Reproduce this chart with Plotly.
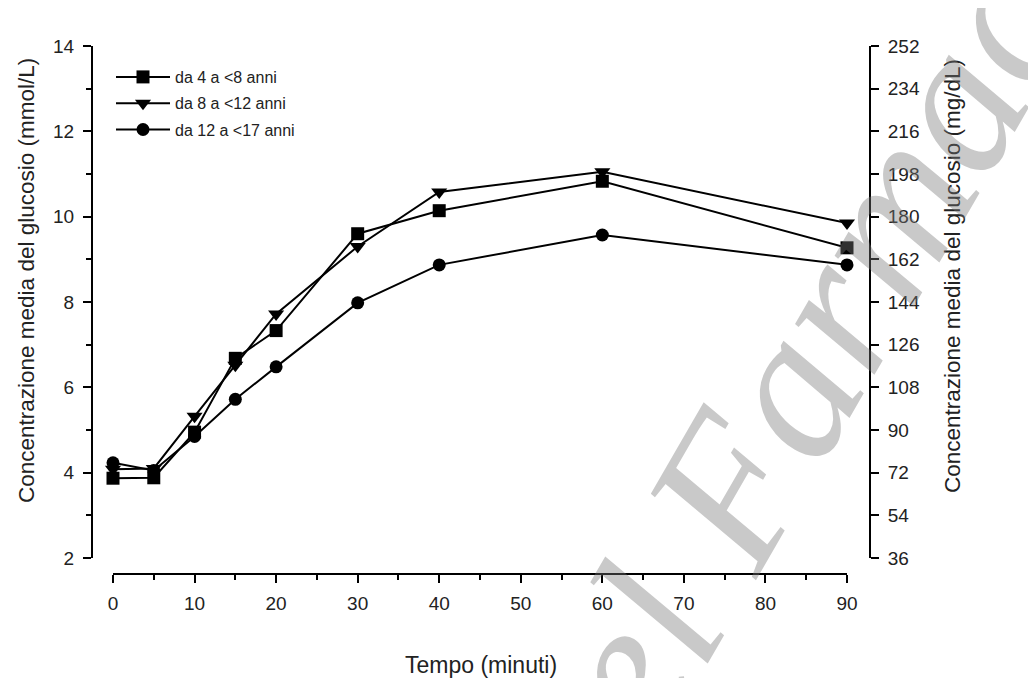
import plotly.graph_objects as go

W, H = 1020, 670          # figure size (page body adds an 8px margin)
OFF = 8
tempo = [0, 5, 10, 15, 20, 30, 40, 60, 90]
serie_nomi = ["da 4 a <8 anni", "da 8 a <12 anni", "da 12 a <17 anni"]
gruppo_4_8 = [3.87, 3.88, 4.95, 6.68, 7.33, 9.60, 10.14, 10.83, 9.27]
gruppo_8_12 = [4.08, 4.10, 5.32, 6.52, 7.72, 9.30, 10.58, 11.05, 9.85]
gruppo_12_17 = [4.23, 4.05, 4.85, 5.72, 6.48, 7.98, 8.87, 9.57, 8.87]
simboli = ["square", "triangle-down", "circle"]
mmol_ticks = [2, 4, 6, 8, 10, 12, 14]
mgdl_ticks = [36, 54, 72, 90, 108, 126, 144, 162, 180, 198, 216, 234, 252]

FONT = "Liberation Sans, Arial, sans-serif"

def px_x(p):
    return (p - OFF) / W

def px_y(p):
    return 1 - (p - OFF) / H

fig = go.Figure()
for i, (nome, vals, sym) in enumerate(zip(serie_nomi, [gruppo_4_8, gruppo_8_12, gruppo_12_17], simboli)):
    fig.add_trace(go.Scatter(
        x=tempo, y=vals, name=nome, mode="lines+markers", legendgroup=f"g{i}",
        line=dict(color="black", width=2),
        marker=dict(symbol=sym, size=13 if sym != "triangle-down" else 14, color="black"),
        cliponaxis=False,
    ))
# invisible trace to activate right axis
fig.add_trace(go.Scatter(x=[tempo[0]], y=[mgdl_ticks[0]], yaxis="y2", mode="markers",
                         marker=dict(opacity=0), showlegend=False, hoverinfo="skip"))

ydom = [px_y(558), px_y(46)]
axis_common = dict(showline=True, linecolor="black", linewidth=2, ticks="outside",
                   tickcolor="black", tickwidth=2, showgrid=False, zeroline=False,
                   automargin=False,
                   tickfont=dict(family=FONT, size=19, color="#222"))

fig.update_layout(
    width=W, height=H, margin=dict(l=0, r=0, t=0, b=0, autoexpand=False),
    plot_bgcolor="white", paper_bgcolor="white",
    showlegend=True,
    legend=dict(x=px_x(111), y=px_y(60), xanchor="left", yanchor="top",
                font=dict(family=FONT, size=16, color="#222"), bgcolor="rgba(0,0,0,0)",
                tracegroupgap=2.5, itemwidth=54),
    xaxis=dict(domain=[px_x(113), px_x(847)], range=[0, 90], anchor="free",
               position=px_y(574), tickvals=list(range(0, 91, 10)), ticklen=8,
               ticklabelstandoff=4,
               minor=dict(ticks="outside", dtick=5, ticklen=5, tickcolor="black", tickwidth=2, tick0=0),
               **axis_common),
    yaxis=dict(domain=ydom, range=[2, 14], anchor="free", position=px_x(92),
               tickvals=mmol_ticks, ticklen=8, ticklabelstandoff=5,
               minor=dict(ticks="outside", dtick=1, ticklen=5, tickcolor="black", tickwidth=2, tick0=0),
               **axis_common),
    yaxis2=dict(domain=ydom, range=[36, 252], anchor="free", position=px_x(870),
                overlaying="y", side="right", tickvals=mgdl_ticks, ticklen=8, ticklabelstandoff=5,
                **axis_common),
)

fig.add_annotation(text="Tempo (minuti)", x=px_x(481), y=px_y(665), xref="paper", yref="paper",
                   showarrow=False, font=dict(family=FONT, size=23, color="#222"),
                   xanchor="center", yanchor="middle")
title_font = dict(family=FONT, size=22.5, color="#222")
fig.add_annotation(text="Concentrazione media del glucosio (mmol/L)", x=px_x(26), y=px_y(281),
                   xref="paper", yref="paper", showarrow=False, font=title_font, textangle=-90,
                   xanchor="center", yanchor="middle")
fig.add_annotation(text="Concentrazione media del glucosio (mg/dL)", x=px_x(952), y=px_y(276),
                   xref="paper", yref="paper", showarrow=False, font=title_font, textangle=-90,
                   xanchor="center", yanchor="middle")
# watermark
fig.add_annotation(text="<i>del Farmaco</i>", x=px_x(808), y=px_y(350), xref="paper", yref="paper",
                   showarrow=False, textangle=-60,
                   font=dict(family="Liberation Serif, Times New Roman, serif", size=205,
                             color="rgba(120,120,120,0.4)"),
                   xanchor="center", yanchor="middle")

fig.write_html("out.html")
